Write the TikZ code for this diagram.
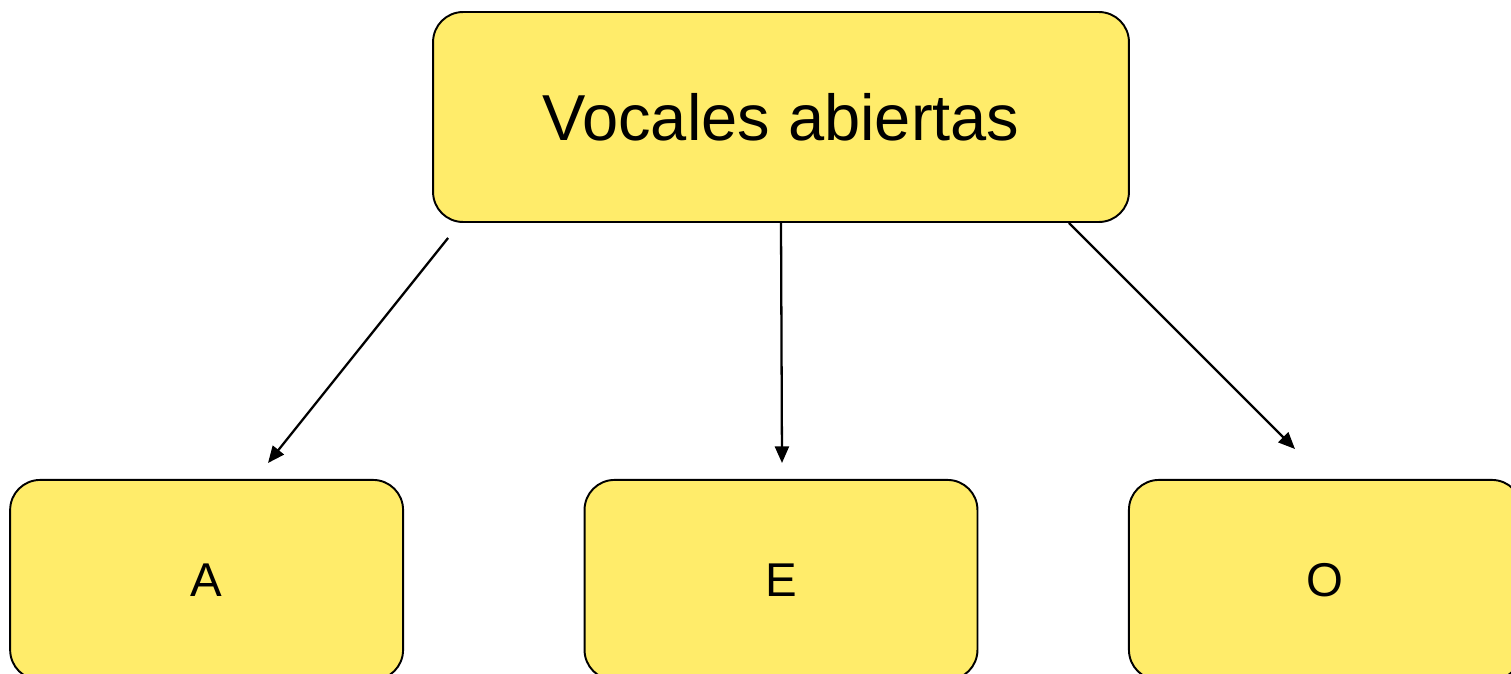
\documentclass[tikz,border=0pt]{standalone}
\usepackage{fontspec}
\setmainfont{Liberation Sans}
\usepackage{tikz}
\usetikzlibrary{arrows.meta, positioning}
\definecolor{vowelyellow}{RGB}{255,236,106}

\begin{document}
\begin{tikzpicture}[x=0.02cm,y=-0.02cm,on grid,>={Triangle[length=9.5pt,width=8pt]},
        boxstyle/.style={draw=black,fill=vowelyellow,line width=1.1pt,rounded corners=0.6cm},
        group/.style={boxstyle,minimum width=13.92cm,minimum height=4.2cm,font=\fontsize{37}{44}\selectfont},
        vowel/.style={boxstyle,minimum width=7.86cm,minimum height=4cm,font=\fontsize{27}{32}\selectfont}]

        \path[use as bounding box,clip] (0,0) rectangle (1511,673);

        \node[group] (top) at (781,117) {Vocales abiertas};
        \node[vowel] (a) [below left=9.26cm and 11.49cm of top] {A};
        \node[vowel] (e) [below=9.26cm of top] {E};
        \node[vowel] (o) [below right=9.26cm and 10.89cm of top] {O};

        \coordinate (tipA) at (268,463);
        \coordinate (tipE) at (782,463);
        \coordinate (tipO) at (1295,449);

        \draw[->,line width=1.3pt] ([xshift=0.32cm,yshift=-0.3cm]top.south west) -- (tipA);
        \draw[->,line width=1.3pt] (top.south) -- (tipE);
        \draw[->,line width=1.3pt] ([xshift=-1.22cm]top.south east) -- (tipO);
    \end{tikzpicture}
\end{document}
